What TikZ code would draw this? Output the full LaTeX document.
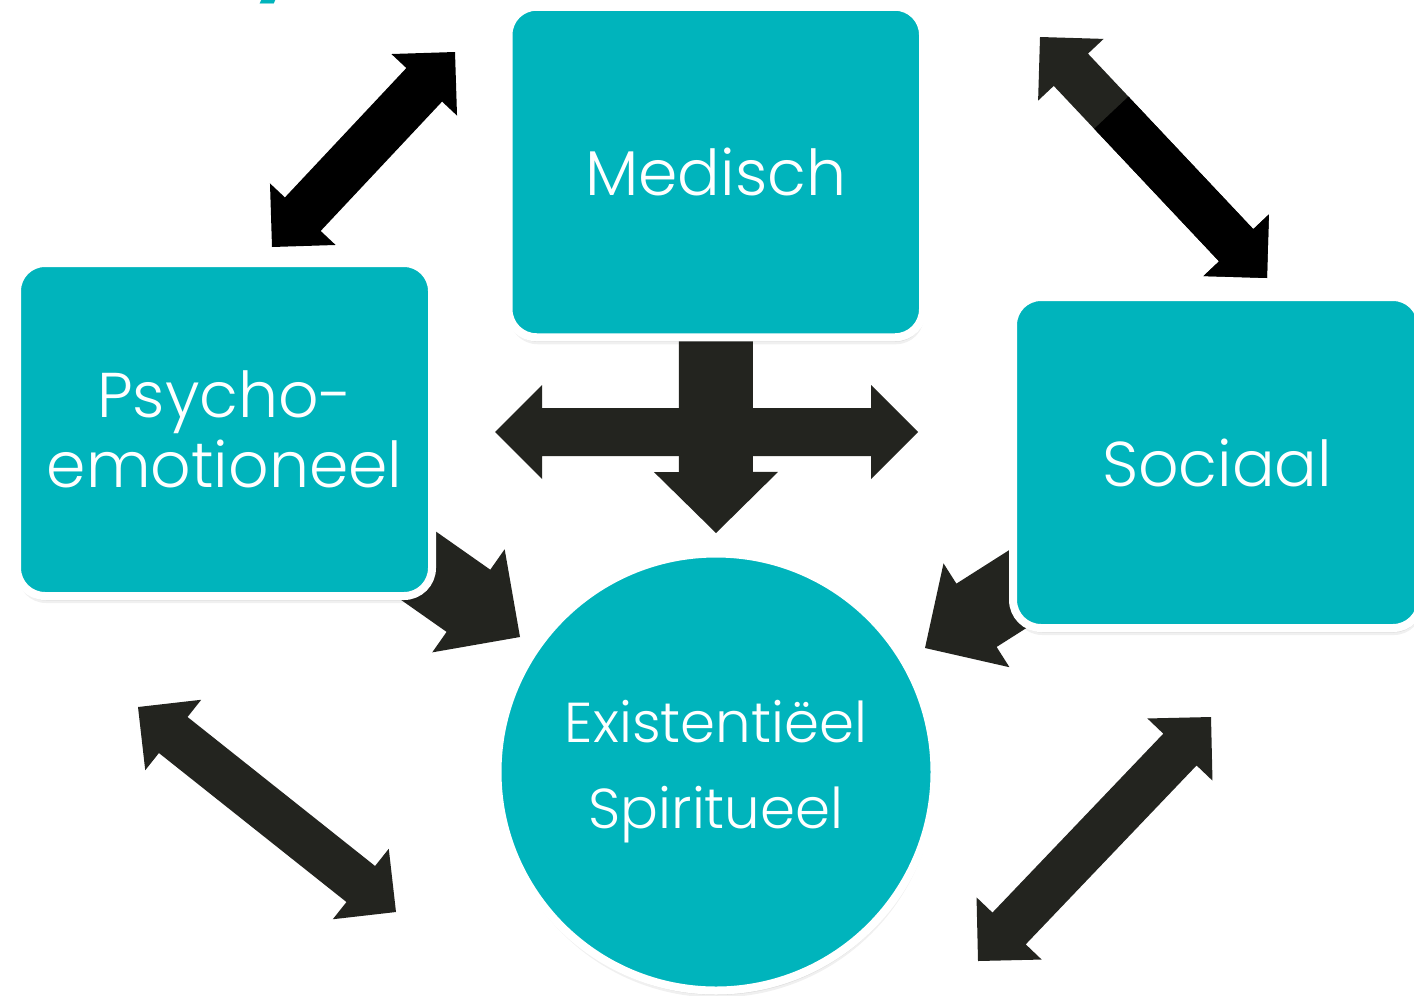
\documentclass[tikz,border=0pt]{standalone}
\usepackage{fontspec}
\setmainfont{Poppins Light}
\newfontfamily\titlefont{Poppins}
\usetikzlibrary{calc,shadows}
\pgfdeclarelayer{paper}
\pgfdeclarelayer{arrows}
\pgfsetlayers{paper,arrows,main}

\definecolor{tealbox}{RGB}{0,180,188}
\definecolor{darkarrow}{RGB}{35,36,31}

\tikzset{
  softshadow/.style={
    drop shadow={shadow xshift=0.1mm, shadow yshift=-0.7mm, opacity=0.06, fill=black},
    drop shadow={shadow xshift=0.1mm, shadow yshift=-0.45mm, opacity=0.08, fill=black}},
  card/.style={draw=white, line width=0.8mm, fill=tealbox, rounded corners=2.8mm,
    text=white, align=center, inner sep=0pt, softshadow},
  disc/.style={circle, draw=white, line width=0.8mm, fill=tealbox, text=white,
    align=center, inner sep=0pt, minimum size=43.7mm, softshadow},
  bigtext/.style={font=\fontsize{18}{19.9}\selectfont},
  midtext/.style={font=\fontsize{16}{24.5}\selectfont},
  darkfill/.style={fill=darkarrow},
  blackfill/.style={fill=black},
}

% double-headed block arrow: [style]{tip A}{tip B}{shaft half width}{head half width}{head length}
\newcommand\dblarrow[6][]{%
  \path ($(#2)!#6!(#3)$) coordinate (da-p) ($(#3)!#6!(#2)$) coordinate (da-q);
  \fill[#1] (#2) -- ($(da-p)!#5!90:(#3)$) -- ($(da-p)!#4!90:(#3)$)
    -- ($(da-q)!#4!-90:(#2)$) -- ($(da-q)!#5!-90:(#2)$) -- (#3)
    -- ($(da-q)!#5!90:(#2)$) -- ($(da-q)!#4!90:(#2)$)
    -- ($(da-p)!#4!-90:(#3)$) -- ($(da-p)!#5!-90:(#3)$) -- cycle;}

% single-headed block arrow: [style]{tail}{tip}{shaft half width}{head half width}{head length}
\newcommand\sglarrow[6][]{%
  \path ($(#3)!#6!(#2)$) coordinate (sa-q);
  \fill[#1] ($(#2)!#4!90:(#3)$) -- ($(sa-q)!#4!-90:(#2)$) -- ($(sa-q)!#5!-90:(#2)$)
    -- (#3) -- ($(sa-q)!#5!90:(#2)$) -- ($(sa-q)!#4!90:(#2)$)
    -- ($(#2)!#4!-90:(#3)$) -- cycle;}

\begin{document}
\begin{tikzpicture}[x=0.1mm, y=-0.1mm]
  \useasboundingbox (0,0) rectangle (1414,995);
  \begin{pgfonlayer}{paper}
    \fill[white] (0,0) rectangle (1414,995);
  \end{pgfonlayer}
  \clip (0,0) rectangle (1414,995);

  % heading running off the top edge
  \node[anchor=base west, text=tealbox, inner sep=0pt,
        font=\titlefont\bfseries\fontsize{22}{24}\selectfont] (heading) at (252,-16) {y};

  % the four aspects
  \node[card, bigtext, minimum width=41.45mm, minimum height=33.05mm] (med) at (715.75,172) {Medisch};
  \node[card, bigtext, minimum width=41.5mm, minimum height=33.3mm] (psy) at (224.5,429.5) {Psycho-\\emotioneel};
  \node[card, bigtext, minimum width=40.8mm, minimum height=33.1mm] (soc) at (1217,462.5) {Sociaal};
  \node[disc, midtext] (exi) at (716,772) {Existentiëel\\Spiritueel};

  % arrow end points
  \coordinate (tlA) at (272,247);  \coordinate (tlB) at (455,52);
  \coordinate (trA) at (1040,37);  \coordinate (trB) at (1267,278);
  \coordinate (blA) at (138,707);  \coordinate (blB) at (396,912);
  \coordinate (brA) at (1211,717); \coordinate (brB) at (978,961);
  \coordinate (crossL) at (495,432); \coordinate (crossR) at (918,432);
  \coordinate (downTip) at (716,533);
  \coordinate (psyTip) at (520,637);
  \coordinate (socTip) at (925,648);

  \begin{pgfonlayer}{arrows}
    % links between neighbouring aspects
    \dblarrow[blackfill]{tlA}{tlB}{2.45mm}{4.5mm}{4.5mm}
    \dblarrow[darkfill]{trA}{trB}{2.35mm}{4.5mm}{4.5mm}
    \begin{scope}
      \path ($(trA)!10.4mm!(trB)$) coordinate (trS) ($(trB)!-5mm!(trA)$) coordinate (trE);
      \clip ($(trS)!9mm!90:(trB)$) -- ($(trS)!9mm!-90:(trB)$)
            -- ($(trE)!9mm!90:(trA)$) -- ($(trE)!9mm!-90:(trA)$) -- cycle;
      \dblarrow[blackfill]{trA}{trB}{2.35mm}{4.5mm}{4.5mm}
    \end{scope}
    \dblarrow[darkfill]{blA}{blB}{2.3mm}{4.5mm}{4.5mm}
    \dblarrow[darkfill]{brA}{brB}{2.3mm}{4.5mm}{4.5mm}

    % cross below the medical box
    \dblarrow[darkfill]{crossL}{crossR}{2.4mm}{4.7mm}{4.7mm}
    \sglarrow[darkfill]{med.center}{downTip}{3.7mm}{6.2mm}{6.1mm}

    % arrows into the central circle
    \sglarrow[darkfill]{psy.center}{psyTip}{3.8mm}{6.3mm}{6.3mm}
    \sglarrow[darkfill]{soc.center}{socTip}{3.75mm}{6.15mm}{6.1mm}
  \end{pgfonlayer}
\end{tikzpicture}
\end{document}
